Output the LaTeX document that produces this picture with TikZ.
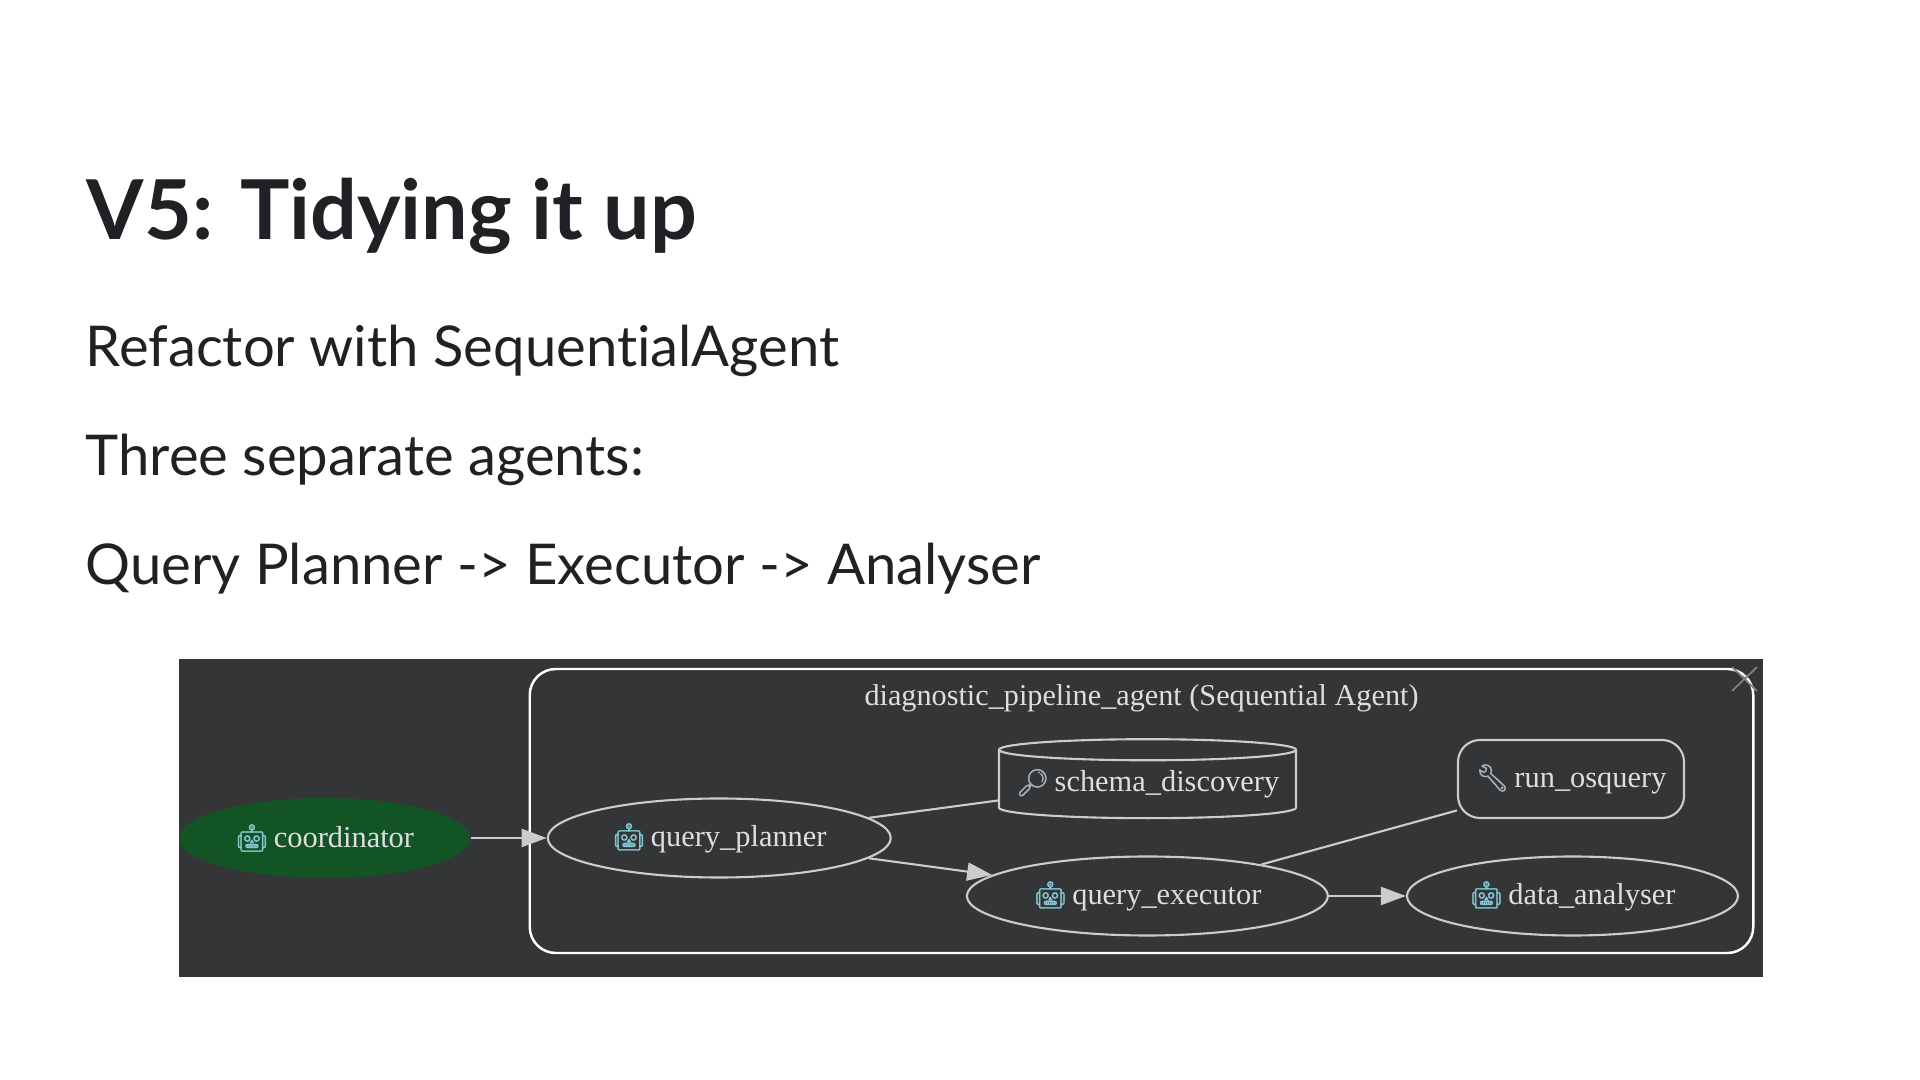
\documentclass[tikz,border=0pt]{standalone}
\usepackage{fontspec}
\usepackage{xcolor}
\setmainfont[Ligatures=NoCommon]{Lato}
\newfontfamily\graphfont{Liberation Serif}
\newfontfamily\emojifont[FakeBold=1.5]{Noto Emoji}
\usetikzlibrary{arrows.meta,positioning,shapes.geometric,shapes.misc}
\definecolor{Xink}{RGB}{32,33,36}
\definecolor{Xpanel}{RGB}{51,53,55}
\definecolor{Xgreen}{RGB}{18,84,36}
\definecolor{Xline}{RGB}{204,204,204}
\definecolor{Xlabel}{RGB}{222,222,222}
\definecolor{Xrobot}{RGB}{130,200,210}
\definecolor{Xtool}{RGB}{170,180,190}
\newcommand{\robot}{{\color{Xrobot}\emojifont\fontsize{7.6}{8}\selectfont 🤖}\hspace{0.05cm}}
\newcommand{\lens}{{\color{Xtool}\emojifont\fontsize{7.6}{8}\selectfont 🔎}\hspace{0.05cm}}
\newcommand{\wrench}{{\color{Xtool}\emojifont\fontsize{7.6}{8}\selectfont 🔧}\hspace{0.05cm}}
\tikzset{
  titletext/.style={anchor=base west, inner sep=0pt, text=Xink, font=\fontsize{23.5}{26}\selectfont\bfseries},
  bodytext/.style={anchor=base west, inner sep=0pt, text=Xink, font=\fontsize{16}{19}\selectfont},
  flow/.style={-{Triangle[length=0.25cm,width=0.18cm]}, draw=Xline, line width=0.6pt},
  plain/.style={draw=Xline, line width=0.6pt},
  agentnode/.style={ellipse, draw=Xline, line width=0.6pt, inner sep=0pt, text=Xlabel, font=\graphfont\fontsize{8.65}{10}\selectfont, minimum height=0.79cm},
  rootnode/.style={ellipse, fill=Xgreen, inner sep=0pt, text=Xlabel, font=\graphfont\fontsize{8.65}{10}\selectfont, minimum height=0.80cm},
  toolnode/.style={rectangle, rounded corners=0.22cm, draw=Xline, line width=0.6pt, inner sep=0pt, text=Xlabel, font=\graphfont\fontsize{8.65}{10}\selectfont},
  storenode/.style={cylinder, shape border rotate=90, aspect=0.08, draw=Xline, line width=0.6pt, inner sep=0pt, text=Xlabel, font=\graphfont\fontsize{8.65}{10}\selectfont}
}
\begin{document}
\begin{tikzpicture}
  \useasboundingbox (0,0) rectangle (19.2,10.8);
  \node[titletext] (title) at (0.86,8.40) {V5: Tidying it up};
  \node[bodytext, below=1.262cm of title.base west, anchor=base west, xshift=-0.01cm] (refactor) {Refactor with SequentialAgent};
  \node[bodytext, below=1.09cm of refactor.base west, anchor=base west] (three) {Three separate agents:};
  \node[bodytext, below=1.09cm of three.base west, anchor=base west] (chain) {Query Planner -> Executor -> Analyser};
  \node[fill=Xpanel, minimum width=15.84cm, minimum height=3.18cm, inner sep=0pt] (panel) at (9.71,2.62) {};
  \node[rectangle, draw=white, line width=0.7pt, rounded corners=0.26cm, minimum width=12.235cm, minimum height=2.84cm, inner sep=0pt] (cluster) at (11.415,2.69) {};
  \node[below=0.16cm of cluster.north, inner sep=0pt, text=Xlabel, font=\graphfont\fontsize{8.6}{10}\selectfont] (clusterlabel) {diagnostic\_pipeline\_agent (Sequential Agent)};
  \node[cross out, draw=gray, line width=0.5pt, minimum width=0.23cm, minimum height=0.22cm, inner sep=0pt] (closeicon) at (17.445,4.01) {};
  \node[rootnode, minimum width=2.91cm] (coordinator) at (3.245,2.42) {\robot coordinator};
  \node[agentnode, minimum width=3.43cm, right=0.76cm of coordinator] (planner) {\robot query\_planner};
  \node[agentnode, minimum width=3.61cm, right=0.74cm of planner, yshift=-0.58cm] (executor) {\robot query\_executor};
  \node[agentnode, minimum width=3.31cm, right=0.77cm of executor] (analyser) {\robot data\_analyser};
  \node[storenode, minimum width=2.97cm, minimum height=0.79cm] (schema) at (11.475,2.955) {\raisebox{0.08cm}{\lens schema\_discovery}};
  \node[toolnode, minimum width=2.26cm, minimum height=0.78cm] (osquery) at (15.71,3.01) {\wrench run\_osquery};
  \draw[flow] (coordinator) -- (planner);
  \draw[plain] (planner) -- ([yshift=-0.16cm]schema.west);
  \draw[flow] (planner) -- (executor);
  \draw[plain] (executor) -- (osquery);
  \draw[flow] (executor) -- (analyser);
\end{tikzpicture}
\end{document}
